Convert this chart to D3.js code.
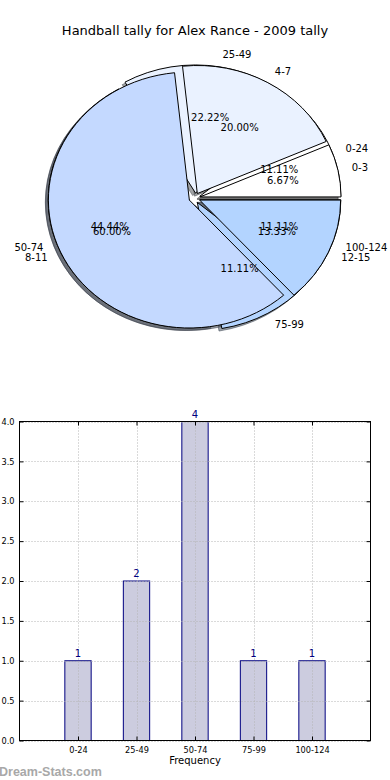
<!DOCTYPE html>
<html>
<head>
<meta charset="utf-8">
<title>Handball tally</title>
<script src="https://d3js.org/d3.v7.min.js"></script>
<style>
  body { margin: 0; background: #fff; }
  svg { display: block; font-family: "DejaVu Sans", sans-serif; }
</style>
</head>
<body>
<div id="chart"></div>
<script>
// data
var tallyCats = ["0-24", "25-49", "50-74", "75-99", "100-124"];
var tallyCounts = [1, 2, 4, 1, 1];
var tallyColors = ["#ffffff", "#eaf2ff", "#c4d9ff", "#b3d4ff", "#b3d4ff"];

var digitCats = ["0-3", "4-7", "8-11", "12-15"];
var digitCounts = [1, 3, 9, 2];
var digitColors = ["#ffffff", "#eaf2ff", "#c4d9ff", "#b3d4ff"];

var yTicks = [0, 0.5, 1, 1.5, 2, 2.5, 3, 3.5, 4];

var W = 390, H = 780;
var svg = d3.select("#chart").append("svg")
  .attr("width", W).attr("height", H);

svg.append("text")
  .attr("x", 195).attr("y", 35)
  .attr("text-anchor", "middle")
  .attr("font-size", 13)
  .text("Handball tally for Alex Rance - 2009 tally");

// ---- pie (two pies drawn on top of each other, matplotlib style) ----
var cx = 194.5, cy = 198, rx = 141, ry = 128;
var explode = 0.04, labelDist = 1.1, pctDist = 0.6;

var pieGen = d3.pie().sort(null).value(function(d) { return d; })
  .startAngle(Math.PI / 2).endAngle(Math.PI / 2 - 2 * Math.PI);
var arc = d3.arc().innerRadius(0).outerRadius(1);

var tallyArcs = pieGen(tallyCounts);
var digitArcs = pieGen(digitCounts);

function mid(a) { return (a.startAngle + a.endAngle) / 2; }
function shift(a) {
  var m = mid(a);
  return [explode * Math.sin(m), -explode * Math.cos(m)];
}

var pieG = svg.append("g")
  .attr("transform", "translate(" + cx + "," + cy + ") scale(" + rx + "," + ry + ")");

// shadows first (below all wedges)
function shadowColor(c) {
  var r = d3.rgb(c);
  return d3.rgb(r.r * 0.3, r.g * 0.3, r.b * 0.3);
}
[[tallyArcs, tallyColors], [digitArcs, digitColors]].forEach(function(p) {
  pieG.append("g").selectAll("path").data(p[0]).enter().append("path")
    .attr("d", arc)
    .attr("transform", function(d, i) {
      var s = shift(d);
      return "translate(" + (s[0] - 0.02) + "," + (s[1] + 0.02) + ")";
    })
    .attr("fill", function(d, i) { return shadowColor(p[1][i]); })
    .attr("fill-opacity", 0.5)
    .attr("stroke", function(d, i) { return shadowColor(p[1][i]); })
    .attr("stroke-opacity", 0.5)
    .attr("stroke-width", 1)
    .attr("vector-effect", "non-scaling-stroke");
});

[[tallyArcs, tallyColors], [digitArcs, digitColors]].forEach(function(p) {
  pieG.append("g").selectAll("path").data(p[0]).enter().append("path")
    .attr("d", arc)
    .attr("transform", function(d) {
      var s = shift(d);
      return "translate(" + s[0] + "," + s[1] + ")";
    })
    .attr("fill", function(d, i) { return p[1][i]; })
    .attr("stroke", "#000")
    .attr("stroke-width", 1)
    .attr("vector-effect", "non-scaling-stroke");
});

function pieLabels(arcs, cats, total) {
  arcs.forEach(function(a, i) {
    var m = mid(a), s = shift(a);
    var ux = Math.sin(m), uy = -Math.cos(m);
    var lx = cx + (s[0] + labelDist * ux) * rx;
    var ly = cy + (s[1] + labelDist * uy) * ry;
    svg.append("text")
      .attr("x", lx).attr("y", ly)
      .attr("dy", "0.35em")
      .attr("font-size", 10)
      .attr("text-anchor", ux > 0 ? "start" : "end")
      .text(cats[i]);
    var px = cx + (s[0] + pctDist * ux) * rx;
    var py = cy + (s[1] + pctDist * uy) * ry;
    svg.append("text")
      .attr("x", px).attr("y", py)
      .attr("dy", "0.35em")
      .attr("font-size", 10)
      .attr("text-anchor", "middle")
      .text((a.value / total * 100).toFixed(2) + "%");
  });
}
pieLabels(tallyArcs, tallyCats, d3.sum(tallyCounts));
pieLabels(digitArcs, digitCats, d3.sum(digitCounts));

// ---- bar chart ----
var bx0 = 19.5, bx1 = 370.5, by0 = 421.5, by1 = 740.5;
var x = d3.scaleLinear().domain([-1, tallyCats.length]).range([bx0, bx1]);
var y = d3.scaleLinear().domain([0, 4]).range([by1, by0]);
var barW = 0.45;

var bg = svg.append("g");

bg.selectAll("rect.bar").data(tallyCounts).enter().append("rect")
  .attr("class", "bar")
  .attr("x", function(d, i) { return x(i - barW / 2); })
  .attr("width", function() { return x(barW) - x(0); })
  .attr("y", function(d) { return y(d); })
  .attr("height", function(d) { return y(0) - y(d); })
  .attr("fill", "#ccccdf")
  .attr("stroke", "#000080")
  .attr("stroke-width", 1);

// grid on top of bars
bg.selectAll("line.gy").data(yTicks).enter().append("line")
  .attr("x1", bx0).attr("x2", bx1)
  .attr("y1", function(d) { return Math.round(y(d)) + 0.5; })
  .attr("y2", function(d) { return Math.round(y(d)) + 0.5; })
  .attr("stroke", "#b4b4b4").attr("stroke-dasharray", "1,2");
bg.selectAll("line.gx").data(tallyCats).enter().append("line")
  .attr("y1", by0).attr("y2", by1)
  .attr("x1", function(d, i) { return Math.round(x(i)) + 0.5; })
  .attr("x2", function(d, i) { return Math.round(x(i)) + 0.5; })
  .attr("stroke", "#b4b4b4").attr("stroke-dasharray", "1,2");

// value labels
bg.selectAll("text.val").data(tallyCounts).enter().append("text")
  .attr("x", function(d, i) { return x(i); })
  .attr("y", function(d) { return y(d) - 4; })
  .attr("text-anchor", "middle")
  .attr("font-size", 10)
  .attr("fill", "#000080")
  .text(function(d) { return d; });

// axes with inward ticks on all sides
var yAxisL = d3.axisLeft(y).tickValues(yTicks).tickFormat(d3.format(".1f")).tickSizeInner(-4).tickSizeOuter(0).tickPadding(5);
var yAxisR = d3.axisRight(y).tickValues(yTicks).tickFormat("").tickSizeInner(-4).tickSizeOuter(0);
var xAxisB = d3.axisBottom(x).tickValues(d3.range(tallyCats.length))
  .tickFormat(function(i) { return tallyCats[i]; }).tickSizeInner(-4).tickSizeOuter(0).tickPadding(7);
var xAxisT = d3.axisTop(x).tickValues(d3.range(tallyCats.length)).tickFormat("").tickSizeInner(-4).tickSizeOuter(0);

function styleAxis(g) {
  g.select(".domain").remove();
  g.selectAll("line").attr("stroke", "#000");
  g.selectAll("text").attr("font-size", 8.2).attr("font-family", "DejaVu Sans, sans-serif").attr("fill", "#000");
}
bg.append("g").attr("transform", "translate(" + bx0 + ",0)").call(yAxisL).call(styleAxis);
bg.append("g").attr("transform", "translate(" + bx1 + ",0)").call(yAxisR).call(styleAxis);
bg.append("g").attr("transform", "translate(0," + by1 + ")").call(xAxisB).call(styleAxis);
bg.append("g").attr("transform", "translate(0," + by0 + ")").call(xAxisT).call(styleAxis);

bg.append("rect")
  .attr("x", bx0).attr("y", by0)
  .attr("width", bx1 - bx0).attr("height", by1 - by0)
  .attr("fill", "none").attr("stroke", "#000").attr("stroke-width", 1);

svg.append("text")
  .attr("x", (bx0 + bx1) / 2).attr("y", 764)
  .attr("text-anchor", "middle")
  .attr("font-size", 10)
  .text("Frequency");

svg.append("text")
  .attr("x", -1).attr("y", 776)
  .attr("font-size", 12.5)
  .attr("font-family", "Liberation Sans, sans-serif")
  .attr("font-weight", "bold")
  .attr("fill", "#a8a8a8")
  .text("Dream-Stats.com");
</script>
</body>
</html>
